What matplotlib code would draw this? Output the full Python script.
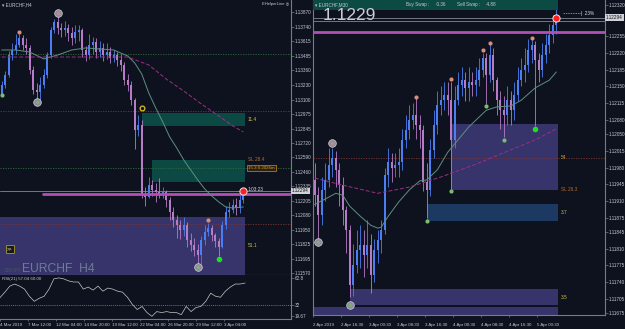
import numpy as np
import matplotlib
matplotlib.use("Agg")
import matplotlib.pyplot as plt
from matplotlib.patches import Rectangle
from matplotlib.lines import Line2D
import matplotlib.transforms as mtransforms

plt.rcParams['font.family'] = ['Liberation Sans', 'DejaVu Sans']

W, H = 625, 329

BG = '#0e121e'
BULL = '#4a7ef2'
BEAR = '#b67cc6'
FRAME = '#767b86'
TXT = '#c6cad2'
FAST = '#5e8f80'
SLOW = '#9b2f86'
MAGENTA = '#b24fb4'

# ---------------- EURCHF H4 (left), one candle = 2 H4 bars ----------------
h4_open0 = 1.13150
h4_close = [1.13229, 1.13317, 1.13494, 1.13538, 1.13582, 1.13644, 1.13582, 1.13556, 1.13361, 1.13185,
            1.13167, 1.13229, 1.13317, 1.13494, 1.13714, 1.13785, 1.13732, 1.13714, 1.13732, 1.13688,
            1.13644, 1.13697, 1.13714, 1.13538, 1.13494, 1.13582, 1.13608, 1.13520, 1.13556, 1.13494,
            1.13520, 1.13467, 1.13494, 1.13450, 1.13406, 1.13273, 1.13229, 1.13097, 1.12832, 1.12876,
            1.12259, 1.12240, 1.12347, 1.12303, 1.12285, 1.12259, 1.12285, 1.12215, 1.12109, 1.12038,
            1.11994, 1.11950, 1.11994, 1.11862, 1.11818, 1.11773, 1.11729, 1.11862, 1.11932, 1.11968,
            1.11906, 1.11850, 1.11800, 1.11994, 1.12109, 1.12126, 1.12170, 1.12144, 1.12215, 1.12294]
h4_high = [1.13260, 1.13350, 1.13530, 1.13600, 1.13680, 1.13680, 1.13670, 1.13640, 1.13580, 1.13400,
           1.13250, 1.13300, 1.13370, 1.13520, 1.13740, 1.13810, 1.13845, 1.13780, 1.13790, 1.13770,
           1.13740, 1.13760, 1.13760, 1.13730, 1.13570, 1.13680, 1.13650, 1.13640, 1.13620, 1.13600,
           1.13600, 1.13560, 1.13540, 1.13520, 1.13500, 1.13430, 1.13330, 1.13260, 1.13110, 1.12960,
           1.12920, 1.12330, 1.12420, 1.12390, 1.12360, 1.12410, 1.12330, 1.12300, 1.12240, 1.12150,
           1.12080, 1.12040, 1.12060, 1.12020, 1.11920, 1.11880, 1.11830, 1.11900, 1.11990, 1.12010,
           1.11990, 1.11920, 1.11880, 1.12030, 1.12160, 1.12200, 1.12220, 1.12230, 1.12260, 1.12320]
h4_low = [1.13130, 1.13200, 1.13300, 1.13450, 1.13500, 1.13560, 1.13540, 1.13500, 1.13330, 1.13150,
          1.13100, 1.13100, 1.13200, 1.13290, 1.13470, 1.13690, 1.13680, 1.13650, 1.13660, 1.13620,
          1.13580, 1.13600, 1.13620, 1.13480, 1.13440, 1.13460, 1.13500, 1.13470, 1.13480, 1.13440,
          1.13460, 1.13420, 1.13430, 1.13400, 1.13350, 1.13230, 1.13180, 1.13050, 1.12660, 1.12780,
          1.12230, 1.12160, 1.12230, 1.12250, 1.12200, 1.12230, 1.12230, 1.12150, 1.12040, 1.11980,
          1.11880, 1.11870, 1.11900, 1.11800, 1.11760, 1.11720, 1.11650, 1.11650, 1.11820, 1.11900,
          1.11850, 1.11800, 1.11720, 1.11790, 1.11960, 1.12060, 1.12100, 1.12080, 1.12100, 1.12190]

h4_fast_idx = [0, 4, 8, 12, 16, 20, 24, 28, 32, 34, 36, 38, 40, 42, 44, 46, 48, 50, 52, 54, 56, 58, 60, 62, 64, 66, 69]
h4_fast = [1.13538, 1.13538, 1.13520, 1.13459, 1.13494, 1.13538, 1.13556, 1.13547, 1.13538, 1.13511,
           1.13485, 1.13423, 1.13326, 1.13159, 1.13026, 1.12903, 1.12770, 1.12673, 1.12568, 1.12479,
           1.12391, 1.12312, 1.12250, 1.12197, 1.12153, 1.12144, 1.12153]
h4_slow_idx = [0, 20, 36, 42, 47, 52, 57, 62, 66, 69]
h4_slow = [1.13476, 1.13476, 1.13476, 1.13406, 1.13282, 1.13176, 1.13062, 1.12956, 1.12868, 1.12815]

h4_levels = [1.13500, 1.13000, 1.12500, 1.12000]
h4_level_colors = ['#2f6a3c', '#7a3434', '#2f6a3c', '#7a3434']
h4_level_labels = ['', '', '15.3 0.2026m', '']

h4_zone_start = [40, 43, -1]
h4_zone_top = [1.12982, 1.12568, 1.12065]
h4_zone_bot = [1.12868, 1.12373, 1.11557]
h4_zone_colors = ['#0d4944', '#0d4944', '#36346a']
h4_zone_labels = ['11.4', 'SL 28.4', '51.1']

h4_mark_idx = [0, 5, 10, 16, 40, 56, 59, 62, 69]
h4_mark_px = [1.13141, 1.13697, 1.13079, 1.13864, 1.13026, 1.11624, 1.12038, 1.11694, 1.12294]
h4_mark_kind = ['low', 'high', 'ring_low', 'ring_high', 'target', 'ring_low', 'high', 'signal', 'now']

h4_ticks = [1.13870, 1.13740, 1.13615, 1.13485, 1.13360, 1.13230, 1.13100, 1.12975, 1.12845, 1.12720,
            1.12590, 1.12460, 1.12335, 1.12205, 1.12080, 1.11950, 1.11825, 1.11695, 1.11570]
h4_time_labels = ['4 Mar 2019', '7 Mar 12:00', '12 Mar 04:00', '14 Mar 20:00', '19 Mar 12:00',
                  '22 Mar 04:00', '26 Mar 20:00', '29 Mar 12:00', '3 Apr 04:00']

rsi = [40.7, 46.8, 53.6, 55.9, 53.6, 50.2, 42.2, 36.5, 39.9, 42.2, 50.2, 61.7, 62.8, 61.7, 59.4, 58.2,
       58.2, 50.2, 52.5, 49.1, 53.6, 47.9, 51.4, 50.2, 47.9, 46.8, 41.1, 33.1, 27.3, 30.8, 23.9, 19.7,
       25.0, 23.9, 25.0, 23.9, 23.9, 21.6, 30.8, 25.0, 29.6, 30.8, 36.5, 45.6, 42.2, 41.1, 47.9, 52.5,
       55.9, 55.9, 57.0]
rsi_ticks = [19.67, 32, 62.8]

# ---------------- EURCHF M30 (right), one candle = 2 M30 bars ----------------
m30_open0 = 1.11954
m30_close = [1.11922, 1.11880, 1.11933, 1.11954, 1.11985, 1.12000, 1.11975, 1.11943, 1.11891, 1.11849,
             1.11734, 1.11775, 1.11807, 1.11817, 1.11796, 1.11817, 1.11755, 1.11807, 1.11828, 1.11849,
             1.11964, 1.11991, 1.11979, 1.11985, 1.11991, 1.12038, 1.12059, 1.12079, 1.12090, 1.12069,
             1.12059, 1.11950, 1.11933, 1.12017, 1.12069, 1.12111, 1.12121, 1.12132, 1.12121, 1.12038,
             1.12121, 1.12153, 1.12163, 1.12147, 1.12159, 1.12153, 1.12163, 1.12184, 1.12209, 1.12174,
             1.12216, 1.12163, 1.12121, 1.12100, 1.12090, 1.12121, 1.12100, 1.12132, 1.12163, 1.12184,
             1.12195, 1.12226, 1.12237, 1.12205, 1.12184, 1.12216, 1.12237, 1.12258, 1.12279, 1.12294]
m30_high = [1.11990, 1.11940, 1.11960, 1.11990, 1.12020, 1.12020, 1.12015, 1.11990, 1.11960, 1.11900,
            1.11860, 1.11820, 1.11850, 1.11860, 1.11850, 1.11870, 1.11840, 1.11830, 1.11850, 1.11870,
            1.11980, 1.12020, 1.12010, 1.12010, 1.12020, 1.12060, 1.12090, 1.12110, 1.12115, 1.12125,
            1.12090, 1.12070, 1.11990, 1.12040, 1.12100, 1.12140, 1.12150, 1.12160, 1.12160, 1.12160,
            1.12150, 1.12180, 1.12190, 1.12180, 1.12190, 1.12180, 1.12190, 1.12210, 1.12220, 1.12220,
            1.12238, 1.12230, 1.12170, 1.12140, 1.12130, 1.12150, 1.12140, 1.12160, 1.12190, 1.12210,
            1.12230, 1.12250, 1.12248, 1.12245, 1.12220, 1.12240, 1.12260, 1.12280, 1.12300, 1.12315]
m30_low = [1.11900, 1.11830, 1.11860, 1.11910, 1.11940, 1.11960, 1.11940, 1.11900, 1.11860, 1.11800,
           1.11708, 1.11710, 1.11760, 1.11770, 1.11750, 1.11770, 1.11718, 1.11740, 1.11780, 1.11800,
           1.11840, 1.11940, 1.11950, 1.11960, 1.11960, 1.11975, 1.12020, 1.12040, 1.12060, 1.12040,
           1.12020, 1.11930, 1.11875, 1.11920, 1.12000, 1.12050, 1.12090, 1.12100, 1.12090, 1.11935,
           1.12020, 1.12110, 1.12130, 1.12120, 1.12120, 1.12130, 1.12130, 1.12150, 1.12170, 1.12113,
           1.12160, 1.12140, 1.12090, 1.12060, 1.12044, 1.12070, 1.12070, 1.12080, 1.12120, 1.12150,
           1.12160, 1.12180, 1.12200, 1.12067, 1.12160, 1.12170, 1.12200, 1.12220, 1.12240, 1.12260]

m30_fast_idx = [0, 3, 6, 8, 10, 13, 16, 18, 19, 21, 24, 27, 30, 32, 35, 38, 44, 49, 52, 56, 59, 63, 67, 69]
m30_fast = [1.11903, 1.11914, 1.11926, 1.11922, 1.11899, 1.11878, 1.11859, 1.11853, 1.11855, 1.11878,
            1.11908, 1.11933, 1.11952, 1.11954, 1.11975, 1.12012, 1.12065, 1.12100, 1.12107, 1.12109,
            1.12121, 1.12147, 1.12163, 1.12180]
m30_slow_idx = [0, 8, 18, 27, 36, 46, 56, 63, 69]
m30_slow = [1.11958, 1.11943, 1.11926, 1.11939, 1.11960, 1.11987, 1.12017, 1.12038, 1.12061]

m30_levels = [1.12000]
m30_level_colors = ['#7a3434']
m30_level_labels = ['54']

m30_zone_start = [39, 32, 10, -1]
m30_zone_top = [1.12071, 1.11903, 1.11725, 1.11687]
m30_zone_bot = [1.11933, 1.11868, 1.11692, 1.11600]
m30_zone_colors = ['#36346a', '#1c3961', '#36346a', '#36346a']
m30_zone_labels = ['SL 26.3', '3.7', '3.5', '']

m30_mark_idx = [1, 5, 10, 29, 32, 39, 39, 48, 49, 50, 54, 62, 63, 69]
m30_mark_px = [1.11824, 1.12031, 1.11692, 1.12128, 1.11868, 1.12165, 1.11931, 1.12226, 1.12109,
               1.12241, 1.12038, 1.12251, 1.12061, 1.12294]
m30_mark_kind = ['ring_low', 'ring_high', 'ring_low', 'high', 'low', 'high', 'low', 'high', 'low',
                 'high', 'low', 'high', 'signal', 'now']

m30_ticks = [1.12320, 1.12255, 1.12220, 1.12185, 1.12150, 1.12115, 1.12080, 1.12050, 1.12015, 1.11980,
             1.11945, 1.11910, 1.11875, 1.11845, 1.11810, 1.11775, 1.11740, 1.11705, 1.11675]
m30_time_labels = ['2 Apr 2019', '2 Apr 16:30', '3 Apr 00:30', '3 Apr 08:30', '3 Apr 16:30',
                   '4 Apr 00:30', '4 Apr 08:30', '4 Apr 16:30', '5 Apr 00:30']

bid = 1.12294
ask_line = 1.12286
line_level = 1.12265

fig = plt.figure(figsize=(W / 100, H / 100), dpi=100, facecolor=BG)


def px_axes(x0, y0, x1, y1):
    ax = fig.add_axes([x0 / W, 1 - y1 / H, (x1 - x0) / W, (y1 - y0) / H])
    ax.set_facecolor(BG)
    for s in ax.spines.values():
        s.set_color(FRAME)
        s.set_linewidth(0.8)
    return ax


def fig_text(x, y, s, **kw):
    kw.setdefault('fontsize', 3.3)
    kw.setdefault('color', TXT)
    kw.setdefault('va', 'center')
    fig.text(x / W, 1 - y / H, s, **kw)


def draw_candles(ax, open0, close, high, low):
    close = np.array(close)
    opn = np.concatenate([[open0], close[:-1]])
    x = np.arange(len(close)) + 0.5
    col = np.where(close >= opn, BULL, BEAR)
    ax.vlines(x, low, high, colors=col, lw=0.6, zorder=3)
    ax.bar(x, close - opn, bottom=opn, width=0.62, color=col, lw=0, zorder=3)


def draw_zones(ax, start, top, bot, colors, labels, end):
    for s, t, b, c, lab in zip(start, top, bot, colors, labels):
        ax.add_patch(Rectangle((s + 0.5, b), end - s - 0.5, t - b, facecolor=c,
                               edgecolor='none', zorder=1))
        if not lab:
            continue
        if lab.startswith('SL'):
            y = t if (t + b) / 2 > bid else b
            ax.text(end + 0.8, y, lab, color='#b86a2c', fontsize=3.4, va='center', zorder=6)
        else:
            ax.text(end + 0.8, (t + b) / 2, lab, color='#c9c23c', fontsize=3.4, va='center', zorder=6)


def draw_levels(ax, levels, colors, labels, end):
    for lv, c, lab in zip(levels, colors, labels):
        ax.axhline(lv, color=c, lw=0.6, ls=(0, (1.5, 1.5)), zorder=2)
        if lab and len(lab) > 3:
            ax.text(end + 0.8, lv, lab, color='#e0a030', fontsize=3.2, va='center', zorder=6,
                    bbox=dict(boxstyle='square,pad=0.25', fc='#2a2010', ec='#d08a1a', lw=0.5))
        elif lab:
            ax.text(end + 0.8, lv, lab, color='#c9a02c', fontsize=3.4, va='center', zorder=6)


def draw_marks(ax, idx, prices, kinds):
    for i, p, k in zip(idx, prices, kinds):
        x = i + 0.5
        if k == 'low':
            ax.plot(x, p, 'o', ms=3.0, color='#7dbb73', mec='none', zorder=7)
        elif k == 'high':
            ax.plot(x, p, 'o', ms=3.0, color='#d98c7c', mec='none', zorder=7)
        elif k in ('ring_low', 'ring_high'):
            inner = '#78b46e' if k == 'ring_low' else '#c98a86'
            ax.plot(x, p, 'o', ms=5.5, color='#8e8c9e', mec='#cfcfd8', mew=0.5, zorder=7)
            ax.plot(x, p, 'o', ms=2.4, color=inner, mec='none', zorder=8)
        elif k == 'target':
            ax.plot(x, p, 'o', ms=3.4, mfc='none', mec='#e0c020', mew=0.9, zorder=7)
        elif k == 'signal':
            ax.plot(x, p, 'o', ms=4.0, color='#19e619', mec='none', zorder=7)
        elif k == 'now':
            ax.plot(x, p, 'o', ms=5.2, color='#ff1f1f', mec='#e8e8e8', mew=0.7, zorder=8)


def price_axis(ax, ticks, lo, hi, nbars, width_px):
    ax.set_ylim(lo, hi)
    ax.set_xlim(0, width_px / 3.5)
    ax.yaxis.tick_right()
    ax.set_yticks(ticks)
    ax.set_yticklabels(['%.5f' % t for t in ticks])
    ax.tick_params(axis='y', colors=FRAME, labelcolor=TXT, labelsize=3.3, length=1.8,
                   width=0.5, pad=1.2)
    blend = mtransforms.blended_transform_factory(ax.transAxes, ax.transData)
    ax.text(1.004, bid, '%.5f' % bid, transform=blend, ha='left', va='center', fontsize=3.3,
            color='#111111', zorder=9, clip_on=False,
            bbox=dict(boxstyle='square,pad=0.2', fc='#cfd2d8', ec='none'))


# ---------------- left panel ----------------
axL = px_axes(0, 0, 291, 274.5)
axL.spines['left'].set_visible(False)
axL.spines['top'].set_visible(False)
price_axis(axL, h4_ticks, 1.11557, 1.13979, len(h4_close), 291)
axL.set_xticks([])
end_l = len(h4_close)
draw_zones(axL, h4_zone_start, h4_zone_top, h4_zone_bot, h4_zone_colors, h4_zone_labels, end_l)
draw_levels(axL, h4_levels, h4_level_colors, h4_level_labels, end_l)
axL.axhline(bid, color='#9aa0aa', lw=0.5, zorder=2)
axL.hlines(line_level, 12, 291 / 3.5, color=MAGENTA, lw=2.0, zorder=4)
draw_candles(axL, h4_open0, h4_close, h4_high, h4_low)
axL.plot(np.array(h4_fast_idx) + 0.5, h4_fast, color=FAST, lw=0.7, zorder=5)
axL.plot(np.array(h4_slow_idx) + 0.5, h4_slow, color=SLOW, lw=0.7, ls=(0, (4, 2)), zorder=5)
draw_marks(axL, h4_mark_idx, h4_mark_px, h4_mark_kind)

# RSI sub-window
axI = px_axes(0, 274.5, 291, 319)
axI.spines['left'].set_visible(False)
axI.spines['top'].set_visible(False)
axI.set_xlim(0, 291 / 3.5)
axI.set_ylim(16.7, 66.6)
axI.plot(np.linspace(0, end_l, len(rsi)), rsi, color='#c8c8c8', lw=0.5)
axI.axhline(32, color='#8a8f99', lw=0.5, ls=(0, (1.5, 1.5)))
axI.yaxis.tick_right()
axI.set_yticks(rsi_ticks)
axI.set_yticklabels(['19.67', '32', '62.8'])
axI.tick_params(axis='y', colors=FRAME, labelcolor=TXT, labelsize=3.3, length=1.8, width=0.5, pad=1.2)
axI.set_xticks(range(0, 8 * len(h4_time_labels), 8))
axI.set_xticklabels(h4_time_labels, ha='left')
axI.tick_params(axis='x', colors=FRAME, labelcolor=TXT, labelsize=3.2, length=1.5, width=0.5, pad=1.5)
axI.text(0.006, 0.9, 'RSI(21) 57.04 60.00', transform=axI.transAxes, fontsize=3.2, color=TXT, va='center')

# ---------------- right panel ----------------
axR = px_axes(313, 0, 605, 315)
axR.spines['top'].set_visible(False)
price_axis(axR, m30_ticks, 1.11671, 1.12331, len(m30_close), 292)
end_r = len(m30_close)
draw_zones(axR, m30_zone_start, m30_zone_top, m30_zone_bot, m30_zone_colors, m30_zone_labels, end_r)
draw_levels(axR, m30_levels, m30_level_colors, m30_level_labels, end_r)
axR.axhline(bid, color='#9aa0aa', lw=0.5, zorder=2)
axR.axhline(ask_line, color='#9aa0aa', lw=0.5, zorder=2)
axR.axhline(line_level, color=MAGENTA, lw=2.0, zorder=4)
draw_candles(axR, m30_open0, m30_close, m30_high, m30_low)
axR.plot(np.array(m30_fast_idx) + 0.5, m30_fast, color=FAST, lw=0.7, zorder=5)
axR.plot(np.array(m30_slow_idx) + 0.5, m30_slow, color=SLOW, lw=0.7, ls=(0, (4, 2)), zorder=5)
draw_marks(axR, m30_mark_idx, m30_mark_px, m30_mark_kind)
axR.set_xticks(range(0, 8 * len(m30_time_labels), 8))
axR.set_xticklabels(m30_time_labels, ha='left')
axR.tick_params(axis='x', colors=FRAME, labelcolor=TXT, labelsize=3.2, length=1.5, width=0.5, pad=4)

# ---------------- chart furniture ----------------
fig_text(2, 4.5, '▾ EURCHF,H4')
fig_text(262, 4.5, 'EHelperLine ◎', fontsize=3.0)
fig_text(248, 189, '1:03:23', fontsize=3.4, color='#d8dbe0')
fig_text(22, 268.5, 'EURCHF  H4', fontsize=8.7, color='#6f7b97')
fig_text(4, 270.5, 'GBPJPY', fontsize=3.3, color='#48516a')
fig_text(10, 249, '>>', ha='center', fontsize=3.4, color='#e0e0e0',
         bbox=dict(boxstyle='square,pad=0.35', fc='#1b1b14', ec='#a59a2a', lw=0.6))

fig.add_artist(Rectangle((313 / W, 1 - 9.5 / H), (558 - 313) / W, 9.5 / H,
                         transform=fig.transFigure, facecolor='#0c4a44', edgecolor='none', zorder=10))
fig_text(315, 4.5, '▾ EURCHF,M30', zorder=11)
fig_text(406, 4.5, 'Buy Swap :', zorder=11)
fig_text(436, 4.5, '-0.36', zorder=11)
fig_text(457, 4.5, 'Sell Swap :', zorder=11)
fig_text(486, 4.5, '-4.88', zorder=11)
fig_text(323, 15.5, '1.1229', fontsize=12.5, color='#c9ccd3', zorder=11)
fig.add_artist(Line2D([563 / W, 581 / W], [1 - 13 / H, 1 - 13 / H], transform=fig.transFigure,
                      color='#b0b4bc', lw=0.5, ls=(0, (2, 1.5))))
fig_text(581, 13, '|  23%', fontsize=3.3, color='#d8dbe0')

fig.savefig('out.png', dpi=100, facecolor=BG)
